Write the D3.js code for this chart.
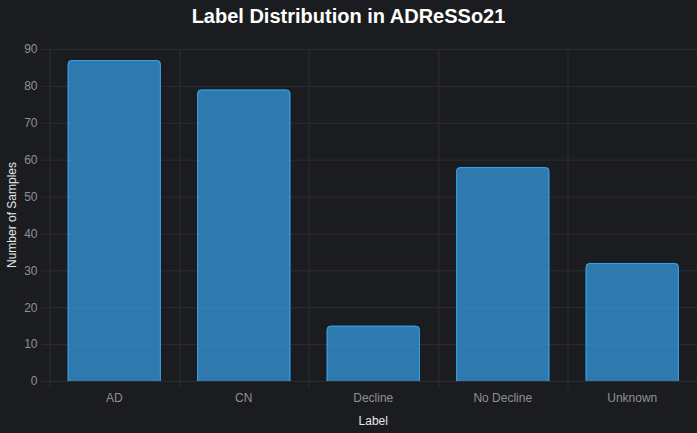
<!DOCTYPE html>
<html>
<head>
<meta charset="utf-8">
<script src="https://cdn.jsdelivr.net/npm/d3@7"></script>
<style>
  html, body { margin: 0; padding: 0; background: #1b1c20; }
  svg { display: block; font-family: "Liberation Sans", Arial, sans-serif; }
  .axis path { display: none; }
  .axis line { stroke: #2c2d31; }
  .axis text { fill: #8f9094; font-size: 12px; }
</style>
</head>
<body>
<div id="chart"></div>
<script>
// data
const categories = ['AD', 'CN', 'Decline', 'No Decline', 'Unknown'];
const counts = [87, 79, 15, 58, 32];
const yTicks = [0, 10, 20, 30, 40, 50, 60, 70, 80, 90];

const width = 697, height = 433;
const margin = {t: 49, r: 0, b: 52, l: 49.5};
const w = width - margin.l - margin.r;
const h = height - margin.t - margin.b;

const svg = d3.select('#chart').append('svg')
    .attr('width', width)
    .attr('height', height);

svg.append('rect')
    .attr('width', width).attr('height', height)
    .attr('fill', '#1b1c20');

const plot = svg.append('g')
    .attr('transform', `translate(${margin.l},${margin.t})`);

// scales
const scaleX = d3.scaleBand()
    .domain(categories)
    .range([0, w]);
const scaleY = d3.scaleLinear()
    .domain([0, 90])
    .range([h, 0]);

// grid + axes
const axisY = d3.axisLeft(scaleY)
    .tickValues(yTicks)
    .tickSize(-w - 8)
    .tickPadding(4);
plot.append('g')
    .attr('class', 'axis axis-y')
    .attr('transform', `translate(${-8 + w + 8},0)`)
    .call(axisY.tickSize(w + 8))
    .selectAll('text')
    .attr('x', -w - 8 - 4);

// vertical grid lines at band boundaries
const bounds = categories.map(d => scaleX(d));
plot.append('g')
    .selectAll('line')
    .data(bounds)
    .join('line')
    .attr('x1', d => Math.round(d) + 0.5)
    .attr('x2', d => Math.round(d) + 0.5)
    .attr('y1', 0)
    .attr('y2', h + 7)
    .attr('stroke', '#2c2d31');

const axisX = d3.axisBottom(scaleX)
    .tickSize(0)
    .tickPadding(12);
plot.append('g')
    .attr('class', 'axis axis-x')
    .attr('transform', `translate(0,${h})`)
    .call(axisX);

// bars
const barW = scaleX.bandwidth() * 0.72;
const r = 4;
function topRounded(x, y, bw, bh, closed) {
    const rr = Math.min(r, bh, bw / 2);
    let p = `M${x},${y + bh}V${y + rr}Q${x},${y} ${x + rr},${y}` +
        `H${x + bw - rr}Q${x + bw},${y} ${x + bw},${y + rr}V${y + bh}`;
    if (closed) p += 'Z';
    return p;
}
const bars = plot.selectAll('.bin')
    .data(categories.map((c, i) => ({c, v: counts[i]})))
    .join('g')
    .attr('class', 'bin');
bars.append('path')
    .attr('d', d => {
        const x = scaleX(d.c) + (scaleX.bandwidth() - barW) / 2;
        const y = scaleY(d.v);
        return topRounded(x, y, barW, scaleY(0) - y, true);
    })
    .attr('fill', 'rgba(54,162,235,0.7)');
bars.append('path')
    .attr('d', d => {
        const x = scaleX(d.c) + (scaleX.bandwidth() - barW) / 2 + 0.5;
        const y = scaleY(d.v) + 0.5;
        return topRounded(x, y, barW - 1, scaleY(0) - y, false);
    })
    .attr('fill', 'none')
    .attr('stroke', '#36a2eb')
    .attr('stroke-width', 1);

// title & axis labels
svg.append('text')
    .attr('x', width / 2)
    .attr('y', 23)
    .attr('text-anchor', 'middle')
    .attr('fill', '#ffffff')
    .attr('font-size', 20)
    .attr('font-weight', 'bold')
    .text('Label Distribution in ADReSSo21');

svg.append('text')
    .attr('x', margin.l + w / 2)
    .attr('y', 425)
    .attr('text-anchor', 'middle')
    .attr('fill', '#e6e6e6')
    .attr('font-size', 12)
    .text('Label');

svg.append('text')
    .attr('transform', `translate(16,${margin.t + h / 2}) rotate(-90)`)
    .attr('text-anchor', 'middle')
    .attr('fill', '#e6e6e6')
    .attr('font-size', 12)
    .text('Number of Samples');
</script>
</body>
</html>
